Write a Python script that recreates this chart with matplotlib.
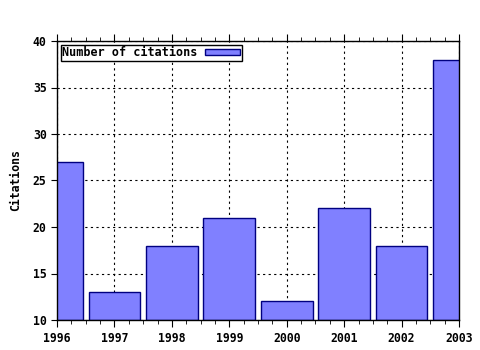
import matplotlib
matplotlib.use("Agg")
import matplotlib.pyplot as plt
from matplotlib.ticker import AutoMinorLocator

years = [1996, 1997, 1998, 1999, 2000, 2001, 2002, 2003]
citations = [27, 13, 18, 21, 12, 22, 18, 38]

plt.rcParams['font.family'] = 'DejaVu Sans Mono'
plt.rcParams['font.weight'] = 'bold'
plt.rcParams['font.size'] = 8

fig = plt.figure(figsize=(4.8, 3.5), dpi=100)
ax = fig.add_axes([57 / 480, 1 - 320 / 350, 402 / 480, 279 / 350])

ax.bar(years, [c - 10 for c in citations], bottom=10, width=0.9,
       color='#8080ff', edgecolor='#000080', linewidth=1,
       label='Number of citations', zorder=3)

ax.set_xlim(1996, 2003)
ax.set_ylim(10, 40)
ax.set_xticks(years)
ax.set_yticks(range(10, 41, 5))
ax.xaxis.set_minor_locator(AutoMinorLocator(4))
ax.tick_params(axis='x', which='both', top=True, direction='out')
ax.tick_params(axis='x', which='major', length=5)
ax.tick_params(axis='x', which='minor', length=3)
ax.tick_params(axis='y', direction='out', length=4)
ax.tick_params(labelsize=8.3)
for lab in ax.get_xticklabels() + ax.get_yticklabels():
    lab.set_fontweight('bold')

ax.grid(True, color='black', linestyle=(0, (2, 3)), linewidth=0.8, zorder=0)
ax.set_axisbelow(True)
for s in ax.spines.values():
    s.set_linewidth(1)
    s.set_zorder(4)

ax.set_ylabel('Citations', fontweight='bold', fontsize=8.3, labelpad=8)

leg = ax.legend(loc='upper left', markerfirst=False, fancybox=False,
                framealpha=1, edgecolor='black', borderpad=0.15,
                handlelength=3.0, handleheight=0.5, handletextpad=0.6,
                borderaxespad=0.3,
                prop={'weight': 'bold', 'size': 8.5, 'family': 'DejaVu Sans Mono'})
leg.get_frame().set_linewidth(1)

fig.savefig('out.png', dpi=100)
